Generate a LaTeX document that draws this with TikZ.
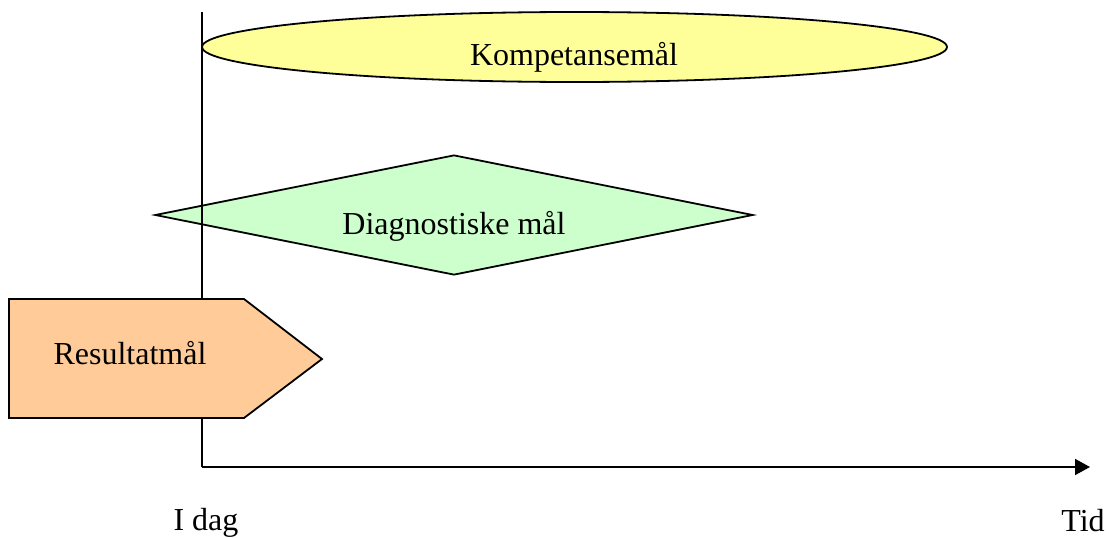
\documentclass[tikz,border=0pt]{standalone}
\usepackage{fontspec}
\setmainfont{Liberation Serif}
\usetikzlibrary{shapes.geometric,arrows.meta}
\begin{document}
\begin{tikzpicture}[x=1pt,y=-1pt,
  outline/.style={draw=black,line width=1.8pt},
  lbl/.style={font=\fontsize{32}{36}\selectfont,inner sep=0pt,anchor=base},
  axis/.style={line width=1.8pt}]
\useasboundingbox (0,0) rectangle (1109,538);
% goal shapes
\node[outline,ellipse,fill={rgb,255:red,255;green,255;blue,153},inner sep=0pt,
      minimum width=745pt,minimum height=70pt] (komp) at (574.5,47) {};
\node[outline,diamond,fill={rgb,255:red,204;green,255;blue,204},inner sep=0pt,
      minimum width=598pt,minimum height=120pt] (diag) at (454,215) {};
% time axes
\coordinate (origin) at (202,467);
\coordinate (top) at (202,12);
\coordinate (tidend) at (1090,467);
\draw[axis] (top) -- (origin);
\draw[axis,-{Triangle[length=15pt,width=16pt]}] (origin) -- (tidend);
% result goal (pentagon pointing right)
\draw[outline,line join=miter,fill={rgb,255:red,255;green,204;blue,153}]
  (9,299) -- (244,299) -- (322,359) -- (244,418) -- (9,418) -- cycle;
% labels
\node[lbl] (kompt) at (574,65) {Kompetansemål};
\node[lbl] (diagt) at (454,234) {Diagnostiske mål};
\node[lbl] (rest) at (130,364) {Resultatmål};
\node[lbl] (idag) at (206,530) {I dag};
\node[lbl] (tid) at (1083,531) {Tid};
\end{tikzpicture}
\end{document}
